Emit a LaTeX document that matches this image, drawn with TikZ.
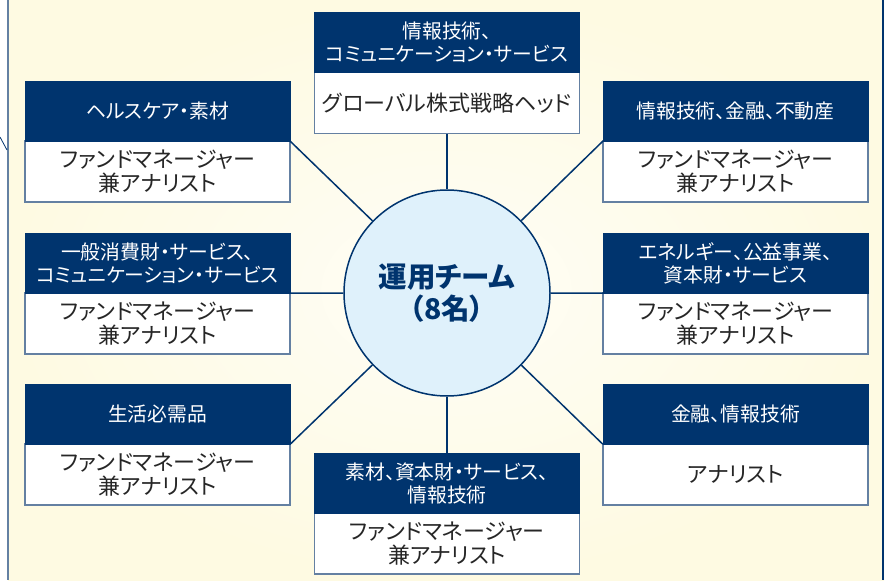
\documentclass[tikz,border=0pt]{standalone}
\usepackage{fontspec}
\setmainfont{Noto Sans CJK JP}[RawFeature=+palt]
\definecolor{navy}{RGB}{0,52,110}
\definecolor{boxline}{RGB}{100,128,162}
\definecolor{teamfill}{RGB}{223,241,251}
\definecolor{cream}{RGB}{254,250,226}
\definecolor{bodytext}{RGB}{38,38,38}
\tikzset{
  headbox/.style={draw=navy, fill=navy, text=white, minimum width=265pt, minimum height=60pt,
    inner sep=0pt, align=center, font=\fontsize{19.8}{23}\selectfont},
  bodybox/.style={draw=boxline, fill=white, text=bodytext, line width=1.2pt, minimum width=265pt,
    minimum height=61pt, inner sep=0pt, align=center, font=\fontsize{22}{23.5}\selectfont},
  link/.style={draw=navy, line width=1.5pt}
}
\begin{document}
\begin{tikzpicture}[x=1pt, y=-1pt]
    \useasboundingbox (0,0) rectangle (890,580);
    \fill[white] (0,0) rectangle (890,580);
    \shade[inner color=white!70!cream, outer color=cream] (8,0) rectangle (884,580);
    \draw[boxline, line width=1.5pt] (8,0) -- (8,580);
    \draw[navy, line width=1.5pt] (883,0) -- (883,580);
    \draw[navy, line width=0.8pt] (0,137) -- (7,150);
    % team in the middle
    \node[circle, draw=navy, fill=teamfill, line width=1.5pt, minimum size=206pt, text=navy,
      align=center, font=\bfseries\fontsize{28.5}{32}\selectfont] (team) at (447,293) {運用チーム\\（8名）};
    % top and bottom
    \node[bodybox] (tb) at (447,103) {グローバル株式戦略ヘッド};
    \node[headbox] (th) at (447,42) {情報技術、\\コミュニケーション・サービス};
    \node[bodybox] (bb) at (447,543.5) {ファンドマネージャー\\兼アナリスト};
    \node[headbox] (bh) at (447,483) {素材、資本財・サービス、\\情報技術};
    % left column
    \node[bodybox] (lb1) at (157.5,171.5) {ファンドマネージャー\\兼アナリスト};
    \node[headbox] (lh1) at (157.5,111) {ヘルスケア・素材};
    \node[bodybox] (lb2) at (157.5,323.5) {ファンドマネージャー\\兼アナリスト};
    \node[headbox] (lh2) at (157.5,263) {一般消費財・サービス、\\コミュニケーション・サービス};
    \node[bodybox] (lb3) at (157.5,474.5) {ファンドマネージャー\\兼アナリスト};
    \node[headbox] (lh3) at (157.5,414) {生活必需品};
    % right column
    \node[bodybox] (rb1) at (735.5,171.5) {ファンドマネージャー\\兼アナリスト};
    \node[headbox] (rh1) at (735.5,111) {情報技術、金融、不動産};
    \node[bodybox] (rb2) at (735.5,323.5) {ファンドマネージャー\\兼アナリスト};
    \node[headbox] (rh2) at (735.5,263) {エネルギー、公益事業、\\資本財・サービス};
    \node[bodybox] (rb3) at (735.5,474.5) {アナリスト};
    \node[headbox] (rh3) at (735.5,414) {金融、情報技術};
    % links to the team
    \draw[link] (tb.south) -- (team);
    \draw[link] (bh.north) -- (team);
    \draw[link] (lh1.south east) -- (team);
    \draw[link] (lh2.south east) -- (team);
    \draw[link] (lh3.south east) -- (team);
    \draw[link] (rh1.south west) -- (team);
    \draw[link] (rh2.south west) -- (team);
    \draw[link] (rh3.south west) -- (team);
\end{tikzpicture}
\end{document}
